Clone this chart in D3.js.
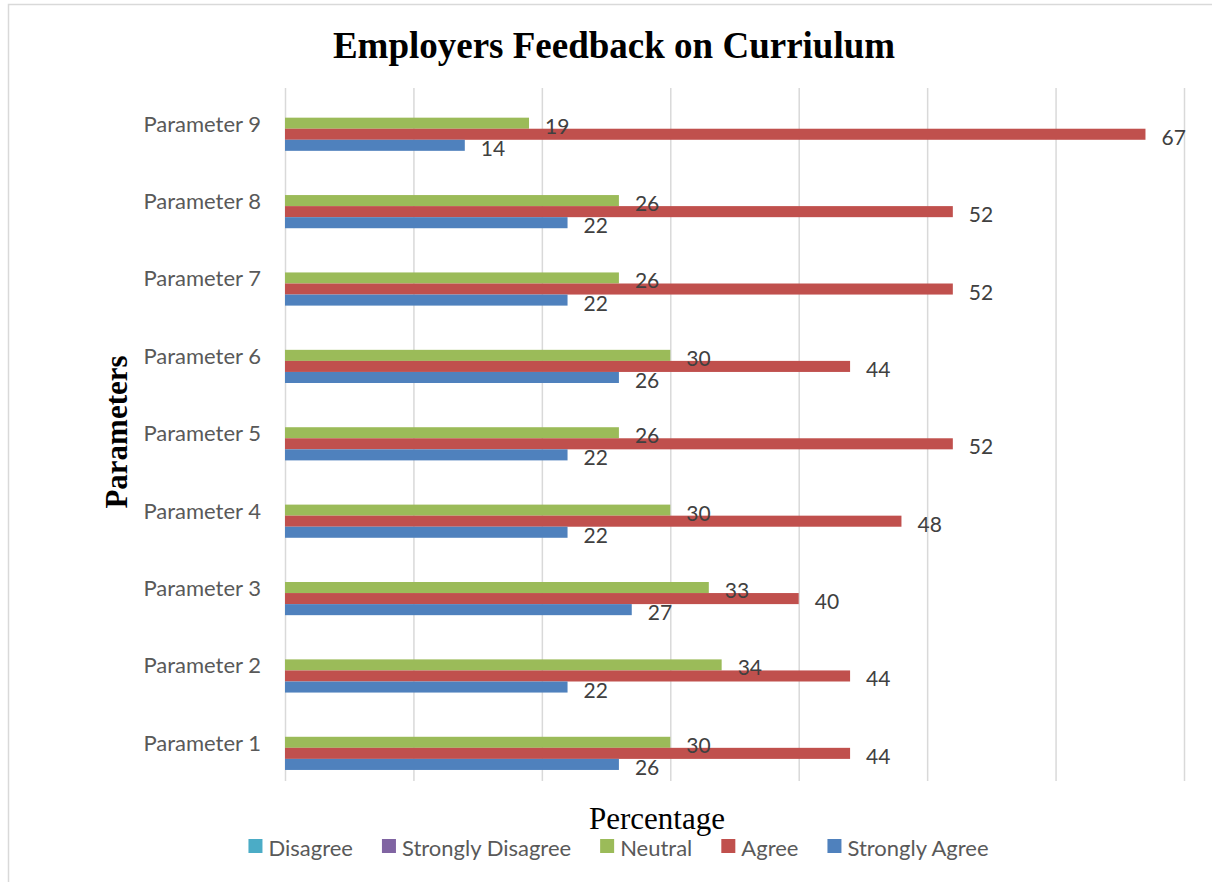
<!DOCTYPE html>
<html>
<head>
<meta charset="utf-8">
<script src="https://cdn.jsdelivr.net/npm/d3@7"></script>
<style>
  html, body { margin: 0; padding: 0; background: #fff; }
  svg { display: block; }
</style>
</head>
<body>
<svg id="chart" width="1212" height="882"></svg>
<script>
// Categories, bottom to top
const categories = ["Parameter 1", "Parameter 2", "Parameter 3", "Parameter 4", "Parameter 5",
                    "Parameter 6", "Parameter 7", "Parameter 8", "Parameter 9"];
// Series in legend order (also top-to-bottom order inside each group)
const seriesNames = ["Disagree", "Strongly Disagree", "Neutral", "Agree", "Strongly Agree"];
const disagree         = [null, null, null, null, null, null, null, null, null];
const stronglyDisagree = [null, null, null, null, null, null, null, null, null];
const neutral          = [30, 34, 33, 30, 26, 30, 26, 26, 19];
const agree            = [44, 44, 40, 48, 52, 44, 52, 52, 67];
const stronglyAgree    = [26, 22, 27, 22, 22, 26, 22, 22, 14];
const seriesColors = ["#4BACC6", "#8064A2", "#9BBB59", "#C0504D", "#4F81BD"];
const xTicks = [0, 10, 20, 30, 40, 50, 60, 70];

const seriesValues = [disagree, stronglyDisagree, neutral, agree, stronglyAgree];

const svg = d3.select("#chart");
const W = 1212, H = 882;
const plot = { left: 285, right: 1184, top: 88, bottom: 781, bandTop: 84.5 };
const sansFont = "Lato, 'Open Sans', sans-serif";
const serifFont = "'Liberation Serif', 'Times New Roman', serif";

// outer chart frame
svg.append("rect")
  .attr("x", 8.5).attr("y", 4.5)
  .attr("width", W).attr("height", H)
  .attr("fill", "#fff").attr("stroke", "#d9d9d9").attr("stroke-width", 1.5);

const x = d3.scaleLinear().domain([0, 70]).range([plot.left, plot.right]);
const y = d3.scaleBand()
  .domain(categories.slice().reverse())
  .range([plot.bandTop, plot.bottom])
  .paddingInner(2 / 7)
  .paddingOuter(1 / 7);
const ySub = d3.scaleBand().domain(seriesNames).range([0, y.bandwidth()]);

// vertical gridlines
const grid = svg.append("g")
  .attr("transform", `translate(0,${plot.bottom})`)
  .call(d3.axisBottom(x).tickValues(xTicks).tickSize(-(plot.bottom - plot.top)).tickFormat(""));
grid.select(".domain").remove();
grid.selectAll(".tick line").attr("stroke", "#d9d9d9").attr("stroke-width", 1.5);

// bars
const rows = [];
categories.forEach((c, i) => {
  seriesNames.forEach((s, j) => {
    const v = seriesValues[j][i];
    if (v != null) rows.push({ cat: c, series: s, value: v, color: seriesColors[j] });
  });
});

svg.append("g").selectAll("rect")
  .data(rows)
  .join("rect")
  .attr("x", x(0))
  .attr("y", d => y(d.cat) + ySub(d.series))
  .attr("width", d => x(d.value) - x(0))
  .attr("height", ySub.bandwidth())
  .attr("fill", d => d.color);

// value labels
svg.append("g").selectAll("text")
  .data(rows)
  .join("text")
  .attr("x", d => x(d.value) + 16)
  .attr("y", d => y(d.cat) + ySub(d.series) + ySub.bandwidth() / 2 + 2)
  .attr("dominant-baseline", "central")
  .attr("font-family", sansFont)
  .attr("font-size", 21)
  .attr("fill", "#404040")
  .text(d => d.value);

// category labels
svg.append("g").selectAll("text")
  .data(categories)
  .join("text")
  .attr("x", 261)
  .attr("y", d => y(d) + y.bandwidth() / 2)
  .attr("text-anchor", "end")
  .attr("dominant-baseline", "central")
  .attr("font-family", sansFont)
  .attr("font-size", 22)
  .attr("fill", "#595959")
  .text(d => d);

// title
svg.append("text")
  .attr("x", 614).attr("y", 58)
  .attr("text-anchor", "middle")
  .attr("font-family", serifFont)
  .attr("font-weight", "bold")
  .attr("font-size", 37)
  .attr("fill", "#000")
  .text("Employers Feedback on Curriulum");

// axis titles
svg.append("text")
  .attr("transform", "translate(127,432) rotate(-90)")
  .attr("text-anchor", "middle")
  .attr("font-family", serifFont)
  .attr("font-weight", "bold")
  .attr("font-size", 31)
  .attr("fill", "#000")
  .text("Parameters");

svg.append("text")
  .attr("x", 657).attr("y", 829)
  .attr("text-anchor", "middle")
  .attr("font-family", serifFont)
  .attr("font-size", 31)
  .attr("fill", "#000")
  .text("Percentage");

// legend, centred under the plot
const legend = svg.append("g");
let lx = 0;
seriesNames.forEach((s, j) => {
  const g = legend.append("g").attr("transform", `translate(${lx},0)`);
  g.append("rect").attr("x", 0).attr("y", -7).attr("width", 14).attr("height", 14).attr("fill", seriesColors[j]);
  const t = g.append("text")
    .attr("x", 20).attr("y", 1)
    .attr("dominant-baseline", "central")
    .attr("font-family", sansFont)
    .attr("font-size", 22)
    .attr("fill", "#595959")
    .text(s);
  const w = 20 + t.node().getComputedTextLength();
  lx += w + (j < seriesNames.length - 1 ? 29 : 0);
});
legend.attr("transform", `translate(${618.5 - lx / 2},846)`);
</script>
</body>
</html>
